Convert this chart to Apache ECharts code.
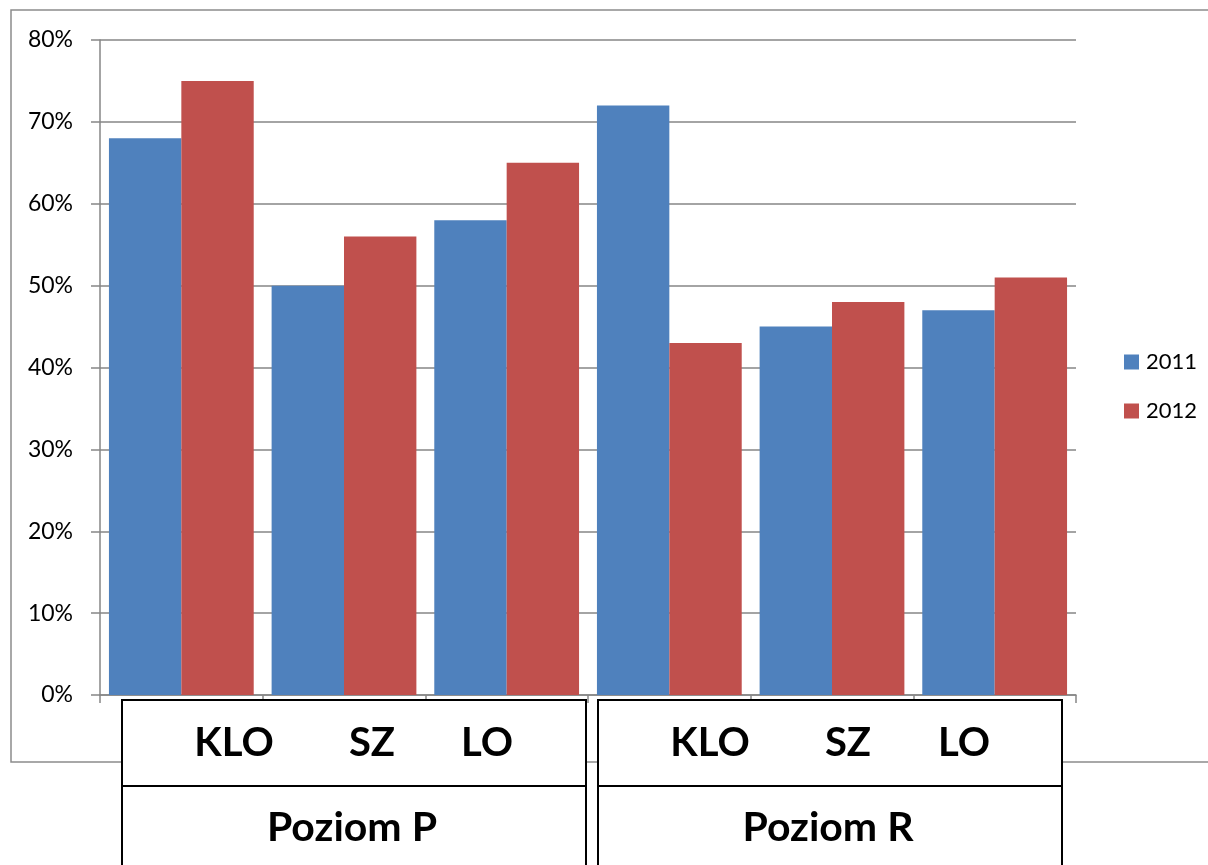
<!DOCTYPE html>
<html>
<head>
<meta charset="utf-8">
<script src="https://cdn.jsdelivr.net/npm/echarts@6/dist/echarts.min.js"></script>
<style>
html,body{margin:0;padding:0;background:#fff;}
#chart{width:1208px;height:865px;}
</style>
</head>
<body>
<div id="chart"></div>
<script>
var groups = ['Poziom P', 'Poziom R'];
var subCategories = ['KLO', 'SZ', 'LO'];
var seriesNames = ['2011', '2012'];
var values2011 = [68, 50, 58, 72, 45, 47];
var values2012 = [75, 56, 65, 43, 48, 51];
var yTicks = [0, 10, 20, 30, 40, 50, 60, 70, 80];

var categories = [];
groups.forEach(function (g) {
  subCategories.forEach(function (s) { categories.push(g + ' ' + s); });
});

var chart = echarts.init(document.getElementById('chart'));

var FONT = 'Lato';
var gridColor = '#868686';

// label boxes below axis (layout only)
var boxX = [122, 598];
var boxW = 464;
var subX = [[234, 372, 487], [710, 848, 964]];
var graphics = [];
graphics.push({
  type: 'rect', z: 0, silent: true,
  shape: { x: 11, y: 10, width: 1300, height: 752 },
  style: { fill: 'none', stroke: '#8c8c8c', lineWidth: 1.5 }
});
groups.forEach(function (g, gi) {
  graphics.push({
    type: 'rect', z: 100, silent: true,
    shape: { x: boxX[gi], y: 700, width: boxW, height: 200 },
    style: { fill: '#fff', stroke: '#000', lineWidth: 2 }
  });
  graphics.push({
    type: 'line', z: 101, silent: true,
    shape: { x1: boxX[gi], y1: 786, x2: boxX[gi] + boxW, y2: 786 },
    style: { stroke: '#000', lineWidth: 2 }
  });
  subCategories.forEach(function (s, si) {
    graphics.push({
      type: 'text', z: 102, silent: true,
      x: subX[gi][si], y: 743,
      style: { text: s, font: 'bold 40px ' + FONT, fill: '#000', align: 'center', verticalAlign: 'middle' }
    });
  });
  graphics.push({
    type: 'text', z: 102, silent: true,
    x: boxX[gi] + boxW / 2 - 2, y: 828,
    style: { text: g, font: 'bold 41px ' + FONT, fill: '#000', align: 'center', verticalAlign: 'middle' }
  });
});

chart.setOption({
  animation: false,
  backgroundColor: '#fff',
  grid: { left: 100, right: 132, top: 40, bottom: 170, containLabel: false },
  legend: {
    orient: 'vertical',
    left: 1119, top: 346,
    itemWidth: 15, itemHeight: 15,
    itemGap: 27,
    icon: 'rect',
    data: seriesNames,
    textStyle: { fontFamily: FONT, fontSize: 22, color: '#000', padding: [0, 0, 0, 2] }
  },
  xAxis: {
    type: 'category',
    data: categories,
    axisLine: { lineStyle: { color: gridColor, width: 1.5 } },
    axisTick: { show: true, length: 8, interval: 0, lineStyle: { color: gridColor, width: 1.5 } },
    axisLabel: { show: false },
    splitLine: { show: false }
  },
  yAxis: {
    type: 'value',
    min: 0, max: 80, interval: 10,
    axisLine: { show: true, lineStyle: { color: gridColor, width: 1.5 } },
    axisTick: { show: true, length: 9, lineStyle: { color: gridColor, width: 1.5 } },
    axisLabel: {
      fontFamily: FONT, fontSize: 23, color: '#000', margin: 27,
      formatter: function (v) { return yTicks.indexOf(v) >= 0 ? v + '%' : ''; }
    },
    splitLine: { show: true, lineStyle: { color: gridColor, width: 1.5 } }
  },
  series: [
    {
      name: seriesNames[0], type: 'bar', data: values2011,
      barGap: '0%', barCategoryGap: '11%',
      itemStyle: { color: '#4F81BD' }
    },
    {
      name: seriesNames[1], type: 'bar', data: values2012,
      barGap: '0%', barCategoryGap: '11%',
      itemStyle: { color: '#C0504D' }
    }
  ],
  graphic: graphics
});
</script>
</body>
</html>
